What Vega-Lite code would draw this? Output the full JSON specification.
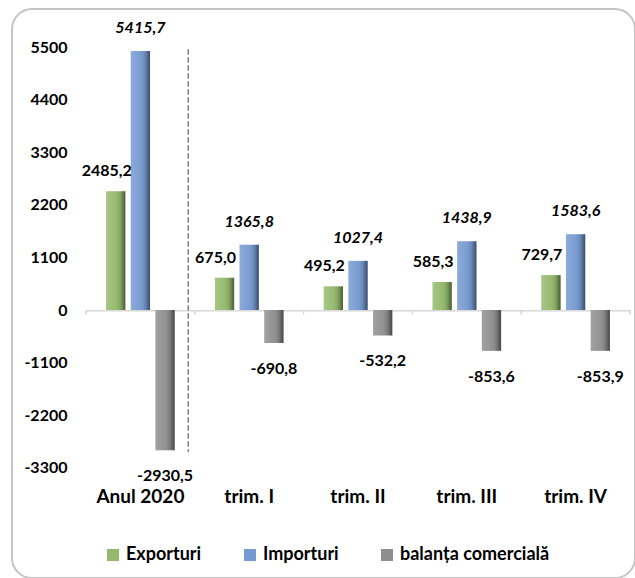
{
  "$schema": "https://vega.github.io/schema/vega-lite/v6.json",
  "width": 623,
  "height": 569,
  "autosize": {"type": "none"},
  "padding": {"left": 12, "top": 9, "right": 0, "bottom": 0},
  "background": "white",
  "config": {
    "view": {"stroke": "#c4c4c4", "strokeWidth": 2, "cornerRadius": 20},
    "font": "Lato",
    "locale": {"number": {"decimal": ",", "thousands": ".", "grouping": [3], "currency": ["", ""], "minus": "-"}},
    "legend": {"orient": "none", "legendX": 92, "legendY": 537, "direction": "horizontal", "columnPadding": 39, "symbolType": "square", "symbolSize": 144, "symbolStrokeWidth": 0, "labelFontSize": 18, "labelFont": "Lato", "labelFontWeight": "bold", "labelColor": "#000000", "labelOffset": 4, "title": null}
  },
  "data": {"values": [
    {"cat": "Anul 2020", "series": "Exporturi", "value": 2485.2},
    {"cat": "Anul 2020", "series": "Importuri", "value": 5415.7},
    {"cat": "Anul 2020", "series": "balanța comercială", "value": -2930.5},
    {"cat": "trim. I", "series": "Exporturi", "value": 675.0},
    {"cat": "trim. I", "series": "Importuri", "value": 1365.8},
    {"cat": "trim. I", "series": "balanța comercială", "value": -690.8},
    {"cat": "trim. II", "series": "Exporturi", "value": 495.2},
    {"cat": "trim. II", "series": "Importuri", "value": 1027.4},
    {"cat": "trim. II", "series": "balanța comercială", "value": -532.2},
    {"cat": "trim. III", "series": "Exporturi", "value": 585.3},
    {"cat": "trim. III", "series": "Importuri", "value": 1438.9},
    {"cat": "trim. III", "series": "balanța comercială", "value": -853.6},
    {"cat": "trim. IV", "series": "Exporturi", "value": 729.7},
    {"cat": "trim. IV", "series": "Importuri", "value": 1583.6},
    {"cat": "trim. IV", "series": "balanța comercială", "value": -853.9}
  ]},
  "encoding": {
    "x": {"field": "cat", "type": "nominal", "sort": null,
      "scale": {"range": [74, 618], "paddingInner": 0, "paddingOuter": 0},
      "axis": {"orient": "bottom", "offset": -76, "title": null, "domain": false, "ticks": false, "tickSize": 0, "labelPadding": 0, "labelBaseline": "alphabetic", "labelAngle": 0, "labelFont": "Lato", "labelFontSize": 19, "labelFontWeight": "bold", "labelColor": "#000000", "grid": false, "labelOverlap": false}},
    "y": {"field": "value", "type": "quantitative",
      "scale": {"domain": [-5604, 6295], "nice": false, "zero": false},
      "axis": {"orient": "left", "offset": -60, "title": null, "domain": false, "ticks": false, "tickSize": 0, "labelPadding": 5, "grid": false, "values": [-3300, -2200, -1100, 0, 1100, 2200, 3300, 4400, 5500], "labelExpr": "'' + datum.value", "labelFont": "Lato", "labelFontSize": 16, "labelFontWeight": "bold", "labelColor": "#000000", "labelBaseline": "middle"}}
  },
  "layer": [
    {
      "mark": {"type": "rect", "color": "#d9d9d9"},
      "encoding": {
        "y": {"datum": 0, "type": "quantitative"},
        "y2": {"datum": -25}
      }
    },
    {
      "mark": {"type": "rule", "color": "#d9d9d9", "strokeWidth": 1},
      "encoding": {
        "x": {"field": "cat", "type": "nominal", "sort": null, "bandPosition": 0},
        "y": {"datum": 0, "type": "quantitative"},
        "y2": {"datum": -90}
      }
    },
    {
      "transform": [{"filter": "datum.cat == 'trim. IV'"}],
      "mark": {"type": "rule", "color": "#d9d9d9", "strokeWidth": 1},
      "encoding": {
        "x": {"field": "cat", "type": "nominal", "sort": null, "bandPosition": 1},
        "y": {"datum": 0, "type": "quantitative"},
        "y2": {"datum": -90}
      }
    },
    {
      "transform": [{"filter": "datum.cat == 'Anul 2020'"}],
      "mark": {"type": "rule", "color": "#808080", "strokeWidth": 1, "strokeDash": [5, 3]},
      "encoding": {
        "x": {"field": "cat", "type": "nominal", "sort": null, "bandPosition": 0.94},
        "y": {"datum": 5450, "type": "quantitative"},
        "y2": {"datum": -2970}
      }
    },
    {
      "mark": {"type": "bar"},
      "encoding": {
        "xOffset": {"field": "series", "type": "nominal", "sort": ["Exporturi", "Importuri", "balanța comercială"], "scale": {"paddingInner": 0.22, "paddingOuter": 0.815}},
        "y2": {"datum": 0},
        "color": {"field": "series", "type": "nominal", "sort": ["Exporturi", "Importuri", "balanța comercială"],
          "scale": {"domain": ["Exporturi", "Importuri", "balanța comercială"], "range": ["#93b96b", "#7599d1", "#8e8e8e"]},
          "legend": {"orient": "none", "legendX": 92, "legendY": 537, "direction": "horizontal", "title": null}}
      }
    },
    {
      "mark": {"type": "bar", "fill": {"gradient": "linear", "x1": 0, "x2": 1, "y1": 0, "y2": 0, "stops": [
        {"offset": 0, "color": "rgba(255,255,255,0.18)"},
        {"offset": 0.45, "color": "rgba(255,255,255,0.05)"},
        {"offset": 0.75, "color": "rgba(0,0,0,0.12)"},
        {"offset": 1, "color": "rgba(0,0,0,0.5)"}]}},
      "encoding": {
        "xOffset": {"field": "series", "type": "nominal", "sort": ["Exporturi", "Importuri", "balanța comercială"]},
        "y2": {"datum": 0}
      }
    },
    {
      "transform": [{"filter": "datum.series == 'Exporturi'"}],
      "mark": {"type": "text", "font": "Lato", "fontSize": 16, "fontWeight": "bold", "color": "#000000", "baseline": "middle", "align": "center", "dx": -9, "dy": -20},
      "encoding": {
        "xOffset": {"field": "series", "type": "nominal", "sort": ["Exporturi", "Importuri", "balanța comercială"]},
        "text": {"field": "value", "type": "quantitative", "format": ".1f"}
      }
    },
    {
      "transform": [{"filter": "datum.series == 'Importuri'"}],
      "mark": {"type": "text", "font": "Lato", "fontSize": 16, "fontWeight": "bold", "fontStyle": "italic", "color": "#000000", "baseline": "middle", "align": "center", "dy": -23},
      "encoding": {
        "xOffset": {"field": "series", "type": "nominal", "sort": ["Exporturi", "Importuri", "balanța comercială"]},
        "text": {"field": "value", "type": "quantitative", "format": ".1f"}
      }
    },
    {
      "transform": [{"filter": "datum.series == 'balanța comercială'"}],
      "mark": {"type": "text", "font": "Lato", "fontSize": 16, "fontWeight": "bold", "color": "#000000", "baseline": "middle", "align": "center", "dy": 26},
      "encoding": {
        "xOffset": {"field": "series", "type": "nominal", "sort": ["Exporturi", "Importuri", "balanța comercială"]},
        "text": {"field": "value", "type": "quantitative", "format": ".1f"}
      }
    }
  ]
}
